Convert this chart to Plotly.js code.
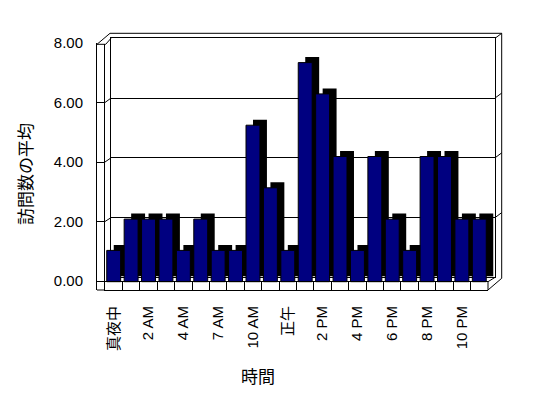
<!DOCTYPE html>
<html>
<head>
<meta charset="utf-8">
<script src="https://cdn.plot.ly/plotly-3.0.1.min.js"></script>
<style>html,body{margin:0;padding:0;background:#fff;}#chart{width:548px;height:398px;}</style>
</head>
<body>
<div id="chart"></div>
<script>
// ---- data ----
const hours = ['真夜中','1 AM','2 AM','3 AM','4 AM','5 AM','7 AM','8 AM','10 AM','11 AM','正午','1 PM','2 PM','3 PM','4 PM','5 PM','6 PM','7 PM','8 PM','9 PM','10 PM','11 PM'];
const avgVisits = [1,2,2,2,1,2,1,1,5,3,1,7,6,4,1,4,2,1,4,4,2,2];
const tickLabels = ['真夜中','','2 AM','','4 AM','','7 AM','','10 AM','','正午','','2 PM','','4 PM','','6 PM','','8 PM','','10 PM',''];
const yTicks = [0,2,4,6,8];
const yTickText = ['0.00','2.00','4.00','6.00','8.00'];
const xTitle = '時間';
const yTitle = '訪問数の平均';

// ---- geometry helpers (pixel -> paper) ----
const W = 548, H = 398;
const px = x => x / W;
const py = y => 1 - y / H;
const FONT = 'Liberation Sans, Arial, "Noto Sans CJK JP", sans-serif';
const JFONT = '"Noto Sans CJK JP", "Liberation Sans", sans-serif';

// front plane scale: 0 at y=281.7, 31.3 px per unit
const frontZero = 281.7, frontUnit = 31.3;
const frontLow = -(290 - frontZero) / frontUnit;
const frontHigh = (frontZero - 44) / frontUnit;
// label plane: 0 at 281, 8 at 43
const labZero = 281, labUnit = (281 - 43) / 8;
// back wall: 0 at 277.4, 8 at 38.3
const backZero = 277.4, backUnit = (277.4 - 38.3) / 8;
const nCat = hours.length;

const traces = [
  {type:'scatter', x:[], y:[], xaxis:'x', yaxis:'y', showlegend:false, hoverinfo:'skip'},
  {type:'bar', x:hours, y:avgVisits, xaxis:'x2', yaxis:'y2', showlegend:false,
   marker:{color:'#000000', line:{width:0}}, hoverinfo:'skip'},
  {type:'bar', x:hours, y:avgVisits, xaxis:'x3', yaxis:'y3', showlegend:false,
   marker:{color:'#000080', line:{color:'#000000', width:1}}},
  {type:'scatter', x:[], y:[], xaxis:'x4', yaxis:'y4', showlegend:false, hoverinfo:'skip'},
  {type:'scatter', x:[], y:[], xaxis:'x5', yaxis:'y3', showlegend:false, hoverinfo:'skip'}
];

function L(x0,y0,x1,y1){
  return {type:'line', xref:'paper', yref:'paper', x0:px(x0), y0:py(y0), x1:px(x1), y1:py(y1),
          line:{color:'#000000', width:1}};
}
const shapes = [
  L(97,44.3,105.7,44.3),
  L(97,44.3,110,33.3),
  L(105.7,44.3,111,38.3),
  L(110,33.3,501.7,33.3),
  L(495,38.3,501.7,33.3),
  L(501.7,33.3,501.7,278.3),
  L(488,290,501.7,278.3),
  L(488,281.7,495,277.4),
  L(488,281.7,488,290),
  L(97,290,105,290)
];
yTicks.slice(1,4).forEach(v => {
  const ly = labZero - v * labUnit;
  const gy = backZero - v * backUnit;
  shapes.push(L(105, ly, 111, gy));
  shapes.push(L(495, gy, 501.7, gy - 5));
});

const layout = {
  width: W, height: H, autosize: false,
  margin: {l:0, r:0, t:0, b:0, pad:0},
  paper_bgcolor: '#ffffff', plot_bgcolor: 'rgba(0,0,0,0)',
  showlegend: false, bargap: 0.2,
  font: {family: FONT, color: '#000000', size: 15},
  xaxis: {domain:[px(111), px(495)], range:[0,1], anchor:'y', showgrid:false, zeroline:false,
          showticklabels:false, ticks:'', showline:true, mirror:true, linecolor:'#000000', linewidth:1},
  yaxis: {domain:[py(backZero), py(38.3)], range:[0,8], anchor:'x', tickmode:'array', tickvals:yTicks,
          showgrid:true, gridcolor:'#000000', gridwidth:1, zeroline:false, showticklabels:false, ticks:'',
          showline:true, mirror:true, linecolor:'#000000', linewidth:1},
  xaxis2: {domain:[px(112), px(495)], range:[-0.5,21.5], type:'category', anchor:'y2', visible:false},
  yaxis2: {domain:[py(290-5.5), py(44-5.5)], range:[frontLow, frontHigh], anchor:'x2', visible:false},
  xaxis3: {domain:[px(105), px(488)], range:[-0.5,21.5], type:'category', anchor:'y3',
           tickmode:'array', tickvals:hours, ticktext:tickLabels,
           ticks:'', showline:true, linecolor:'#000000', linewidth:1, showgrid:false, zeroline:false,
           tickangle:-90, ticklabelstandoff:9,
           tickfont:{family: FONT, size:15, color:'#000000'}},
  // floor separators at category boundaries
  xaxis5: {domain:[px(105), px(488)], range:[-0.5, nCat - 0.5], type:'linear', anchor:'y3',
           tickmode:'linear', tick0:0.5, dtick:1, ticks:'inside', ticklen:8, tickcolor:'#000000', tickwidth:1,
           showticklabels:false, showline:false, showgrid:false, zeroline:false},
  yaxis3: {domain:[py(290), py(44)], range:[frontLow, frontHigh], anchor:'x3',
           showgrid:false, zeroline:true, zerolinecolor:'#000000', zerolinewidth:1,
           showticklabels:false, ticks:'', showline:true, linecolor:'#000000', linewidth:1},
  xaxis4: {domain:[px(97), px(105)], range:[0,1], anchor:'y4', visible:false},
  yaxis4: {domain:[py(290), py(43)], range:[-(290-labZero)/labUnit, 8], anchor:'x4',
           tickmode:'array', tickvals:yTicks, ticktext:yTickText,
           ticks:'inside', ticklen:8, tickcolor:'#000000', tickwidth:1,
           showline:true, linecolor:'#000000', linewidth:1, showgrid:false, zeroline:false,
           ticklabelstandoff:10, tickfont:{family: FONT, size:15, color:'#000000'}},
  shapes: shapes,
  annotations: [
    {text: yTitle, xref:'paper', yref:'paper', x:px(24), y:py(174), showarrow:false,
     textangle:-90, font:{family: JFONT, size:17, color:'#000000'}, xanchor:'center', yanchor:'middle'},
    {text: xTitle, xref:'paper', yref:'paper', x:px(258), y:py(375), showarrow:false,
     font:{family: JFONT, size:17, color:'#000000'}, xanchor:'center', yanchor:'middle'}
  ]
};

Plotly.newPlot('chart', traces, layout, {displayModeBar:false, staticPlot:true});
</script>
</body>
</html>
